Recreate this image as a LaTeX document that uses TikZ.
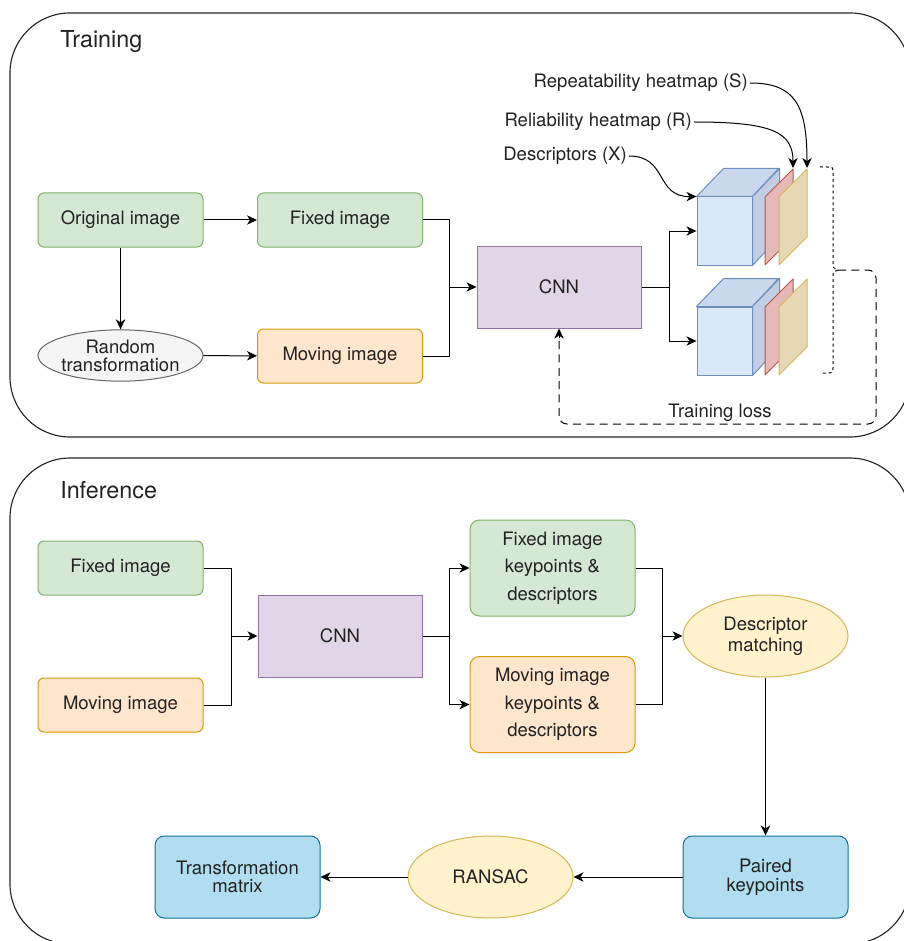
\documentclass[tikz,border=0pt]{standalone}
\usepackage{fontspec}
\setmainfont{TeX Gyre Heros}
\usetikzlibrary{arrows.meta,shapes.geometric}
\definecolor{txt}{HTML}{222222}
\definecolor{gfill}{HTML}{D5E8D4}\definecolor{gdraw}{HTML}{82B366}
\definecolor{ofill}{HTML}{FFE6CC}\definecolor{odraw}{HTML}{D79B00}
\definecolor{pfill}{HTML}{E1D5E7}\definecolor{pdraw}{HTML}{9673A6}
\definecolor{efill}{HTML}{F5F5F5}\definecolor{edraw}{HTML}{666666}
\definecolor{yfill}{HTML}{FFF2CC}\definecolor{ydraw}{HTML}{D6B656}
\definecolor{bfill}{HTML}{B1DDF0}\definecolor{bdraw}{HTML}{10739E}
\definecolor{cfill}{HTML}{DAE8FC}\definecolor{cdraw}{HTML}{6C8EBF}
\definecolor{ctop}{HTML}{CAD8EE}\definecolor{cside}{HTML}{C2CFE3}
\definecolor{rsheet}{HTML}{E6B9B8}\definecolor{rsdraw}{HTML}{B85450}
\definecolor{ysheet}{HTML}{E6D8B4}\definecolor{ysdraw}{HTML}{D6B656}
\newcommand{\bodyfont}{\fontsize{13.9}{14}\selectfont}
\tikzset{
  base/.style={line width=0.75pt, align=center, font=\bodyfont, text=txt, inner sep=0pt},
  box/.style={base, rectangle, rounded corners=4.5pt, minimum width=123.75pt, minimum height=40.5pt},
  gbox/.style={box, fill=gfill, draw=gdraw},
  obox/.style={box, fill=ofill, draw=odraw},
  pbox/.style={base, rectangle, fill=pfill, draw=pdraw, minimum width=123pt, minimum height=61.5pt},
  bbox/.style={box, fill=bfill, draw=bdraw, rounded corners=7pt, minimum height=61.5pt},
  ellbox/.style={base, ellipse, minimum width=123.75pt, minimum height=61.5pt},
  frame/.style={line width=0.85pt, draw=black!85, rounded corners=45pt},
  arr/.style={line width=0.75pt, draw=black, -{Stealth[length=7.5pt,width=7pt,inset=2.2pt]}},
  conn/.style={line width=0.75pt, draw=black},
  lbl/.style={font=\bodyfont, text=txt, inner sep=1.5pt},
  heading/.style={font=\fontsize{17.5}{20}\selectfont, text=txt, inner sep=0pt},
  lossline/.style={line width=0.75pt, dash pattern=on 6pt off 4pt, rounded corners=6pt},
  bracketline/.style={line width=0.75pt, dash pattern=on 2.2pt off 2.2pt},
  cubefront/.style={rectangle, fill=cfill, draw=cdraw, line width=0.75pt, minimum width=41.25pt, minimum height=51pt, inner sep=0pt},
}
\begin{document}
\begin{tikzpicture}[x=0.75pt,y=-0.75pt]
\useasboundingbox (0,0) rectangle (903,941);

% frames
\draw[frame] (10,13) rectangle (910,437);
\draw[frame] (10,458) rectangle (910,944);
\node[heading, anchor=west] (htrain) at (60,42) {Training};
\node[heading, anchor=west] (hinf) at (60,490) {Inference};

% ---------------- Training ----------------
\node[gbox] (orig) at (120.5,220) {Original image};
\node[gbox] (fixT) at (340,220) {Fixed image};
\node[ellbox, fill=efill, draw=edraw, minimum height=38.5pt,
  label={[align=center, font=\fontsize{13.9}{13.5}\selectfont, text=txt]center:Random\\transformation}] (rand) at (120.5,355.5) {};
\node[obox] (movT) at (340,356) {Moving image};
\node[pbox] (cnnT) at (559,287) {CNN};

\draw[arr] (orig) -- (fixT);
\draw[arr] (orig) -- (rand);
\draw[arr] (rand) -- (movT);
\coordinate (jT) at (449,287);
\draw[conn] (fixT.east) -| (jT);
\draw[conn] (movT.east) -| (jT);
\draw[arr] (jT) -- (cnnT.west);

% cubes
\node[cubefront] (cubeA) at (724.5,231) {};
\node[cubefront] (cubeB) at (724.5,341) {};
\foreach \c in {cubeA,cubeB}{
  \draw[fill=ctop, draw=cdraw, line width=0.75pt, line join=round] (\c.north west) -- ++(27,-28) -- ++(55,0) -- (\c.north east) -- cycle;
  \draw[fill=cside, draw=cdraw, line width=0.75pt, line join=round] (\c.north east) -- ++(27,-28) -- ++(0,68) -- (\c.south east) -- cycle;
}
\foreach \dy in {0,110}{
  \draw[fill=rsheet, draw=rsdraw, line width=0.75pt, line join=round] (765,197+\dy) -- (793,169+\dy) -- (793,237+\dy) -- (765,265+\dy) -- cycle;
  \draw[fill=ysheet, draw=ysdraw, line width=0.75pt, line join=round] (779,197+\dy) -- (807,169+\dy) -- (807,237+\dy) -- (779,265+\dy) -- cycle;
}
\coordinate (sR) at (793,168);
\coordinate (sY) at (807,168);

\coordinate (jC) at (669,287);
\draw[conn] (cnnT.east) -- (jC);
\draw[arr] (jC) |- (cubeA.west);
\draw[arr] (jC) |- (cubeB.west);

% labels
\node[lbl, anchor=east] (lS) at (750,83) {Repeatability heatmap (S)};
\node[lbl, anchor=east] (lR) at (694,122) {Reliability heatmap (R)};
\node[lbl, anchor=east] (lX) at (629,156) {Descriptors (X)};
\draw[arr] (lS.east) .. controls (795,83) and (807,105) .. (sY);
\draw[arr] (lR.east) .. controls (772,122) and (793,132) .. (sR);
\draw[arr] (lX.east) .. controls (668,156) and (655,197) .. (cubeA.north west);

% bracket
\coordinate (br) at (838,270);
\draw[bracketline] (820,167) -- (827,167) .. controls (833,167) .. (833,174) -- (833,262)
  .. controls (833,268) .. (br) .. controls (833,272) .. (833,278) -- (833,366)
  .. controls (833,373) .. (826,373) -- (820,373);

% loss
\coordinate (lossTR) at (876,270);
\coordinate (lossBR) at (876,424);
\coordinate (lossBL) at (559,424);
\draw[lossline] (br) -- (lossTR) -- (lossBR) -- (lossBL) -- ([yshift=-6pt]cnnT.south);
\draw[arr] ([yshift=-7pt]cnnT.south) -- (cnnT.south);
\node[lbl] (loss) at (720,413) {Training loss};

% ---------------- Inference ----------------
\node[gbox] (fixI) at (120.5,568) {Fixed image};
\node[obox] (movI) at (120.5,705) {Moving image};
\node[pbox] (cnnI) at (340,636) {CNN};
\node[gbox, minimum height=72pt, rounded corners=7pt, font=\fontsize{13.9}{20.5}\selectfont] (kpF) at (552.5,568) {Fixed image\\keypoints \&\\descriptors};
\node[obox, minimum height=72pt, rounded corners=7pt, font=\fontsize{13.9}{20.5}\selectfont] (kpM) at (552.5,704.5) {Moving image\\keypoints \&\\descriptors};
\node[ellbox, fill=yfill, draw=ydraw,
  label={[align=center, font=\fontsize{13.9}{16}\selectfont, text=txt]center:Descriptor\\matching}] (dm) at (765.5,636) {};
\node[bbox, font=\fontsize{13.9}{14.2}\selectfont] (paired) at (765.5,877) {Paired\\keypoints};
\node[ellbox, fill=yfill, draw=ydraw] (ransac) at (490.5,877) {RANSAC};
\node[bbox, font=\fontsize{13.9}{13.5}\selectfont] (tmat) at (237.5,877) {Transformation\\matrix};

\coordinate (jI1) at (231,636);
\draw[conn] (fixI.east) -| (jI1);
\draw[conn] (movI.east) -| (jI1);
\draw[arr] (jI1) -- (cnnI.west);
\coordinate (jI2) at (449,636);
\draw[conn] (cnnI.east) -- (jI2);
\draw[arr] (jI2) |- (kpF.west);
\draw[arr] (jI2) |- (kpM.west);
\coordinate (jI3) at (662,636);
\draw[conn] (kpF.east) -| (jI3);
\draw[conn] (kpM.east) -| (jI3);
\draw[arr] (jI3) -- (dm.west);
\draw[arr] (dm.south) -- (paired.north);
\draw[arr] (paired.west) -- (ransac.east);
\draw[arr] (ransac.west) -- (tmat.east);
\end{tikzpicture}
\end{document}
